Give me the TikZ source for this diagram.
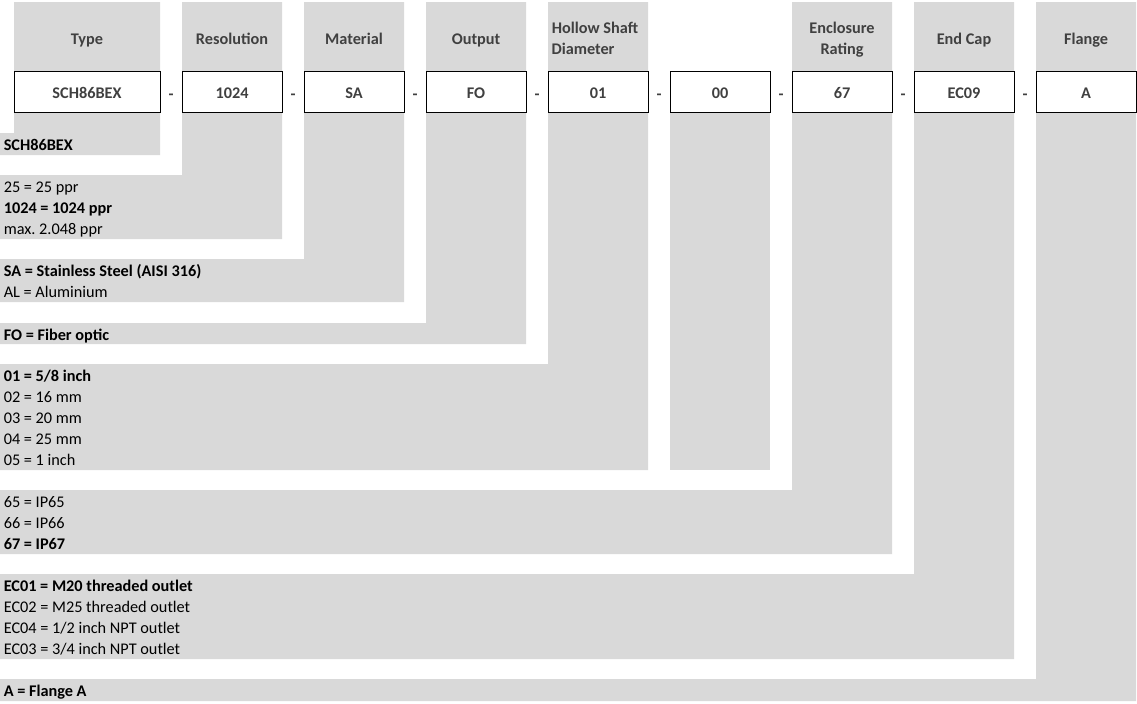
\documentclass[tikz,border=0pt]{standalone}
\usepackage{fontspec}
\setmainfont{Carlito}
\definecolor{cellgray}{HTML}{D9D9D9}
\definecolor{headink}{HTML}{404040}
\tikzset{
  colfill/.style={fill=cellgray, draw=none},
  headtext/.style={font=\fontsize{12.2pt}{14pt}\selectfont\bfseries, text=headink,
                   inner sep=0pt, anchor=base},
  codebox/.style={rectangle, draw=black, line width=0.75pt, fill=white,
                  text=headink, font=\fontsize{12.2pt}{14pt}\selectfont\bfseries,
                  minimum width=75pt, minimum height=30.75pt, inner sep=0pt,
                  text height=10.5pt, text depth=0pt},
  opttext/.style={font=\fontsize{12.2pt}{14pt}\selectfont, text=black,
                  inner sep=0pt, anchor=base west},
  optbold/.style={opttext, font=\fontsize{12.2pt}{14pt}\selectfont\bfseries}
}

\begin{document}
\begin{tikzpicture}[x=0.75pt, y=-0.75pt]
  \useasboundingbox (0,0) rectangle (1137,703);

  % grey columns, each running down into its option block
  \fill[colfill] (14,2) rectangle (160,155) (0,133) rectangle (160,155);
  \fill[colfill] (182,2) rectangle (282,239) (0,175) rectangle (282,239);
  \fill[colfill] (304,2) rectangle (404,302) (0,259) rectangle (404,302);
  \fill[colfill] (426,2) rectangle (526,344) (0,323) rectangle (526,344);
  \fill[colfill] (548,2) rectangle (648,470) (0,364) rectangle (648,470);
  \fill[colfill] (670,71) rectangle (770,470);
  \fill[colfill] (792,2) rectangle (892,554) (0,490) rectangle (892,554);
  \fill[colfill] (914,2) rectangle (1014,659) (0,574) rectangle (1014,659);
  \fill[colfill] (1036,2) rectangle (1136,701) (0,679) rectangle (1136,701);

  % headers
  \node[headtext] (htype) at (87,44) {Type};
  \node[headtext] (hres) at (232,44) {Resolution};
  \node[headtext] (hmat) at (354,44) {Material};
  \node[headtext] (hout) at (476,44) {Output};
  \node[headtext] (hshaft) at (595,33) {Hollow Shaft};
  \node[headtext] (hdia) at (583,54) {Diameter};
  \node[headtext] (hencl) at (842,33) {Enclosure};
  \node[headtext] (hrate) at (842,54) {Rating};
  \node[headtext] (hcap) at (964,44) {End Cap};
  \node[headtext] (hflange) at (1086,44) {Flange};

  % order code
  \node[codebox, minimum width=109.5pt] (type) at (87,91.5) {SCH86BEX};
  \node[codebox] (res) at (232,91.5) {1024};
  \node[codebox] (mat) at (354,91.5) {SA};
  \node[codebox] (out) at (476,91.5) {FO};
  \node[codebox] (shaft) at (598,91.5) {01};
  \node[codebox] (spare) at (720,91.5) {00};
  \node[codebox] (encl) at (842,91.5) {67};
  \node[codebox] (cap) at (964,91.5) {EC09};
  \node[codebox] (flange) at (1086,91.5) {A};

  \node[headtext] (d1) at (171,99) {-};
  \node[headtext] (d2) at (293,99) {-};
  \node[headtext] (d3) at (415,99) {-};
  \node[headtext] (d4) at (537,99) {-};
  \node[headtext] (d5) at (659,99) {-};
  \node[headtext] (d6) at (781,99) {-};
  \node[headtext] (d7) at (903,99) {-};
  \node[headtext] (d8) at (1025,99) {-};

  % options
  \node[optbold] (otype) at (3.5,150.5) {SCH86BEX};

  \node[opttext] (ores1) at (3.5,192.5) {25 = 25 ppr};
  \node[optbold] (ores2) at (3.5,213.5) {1024 = 1024 ppr};
  \node[opttext] (ores3) at (3.5,234.5) {max.\ 2.048 ppr};

  \node[optbold] (omat1) at (3.5,276.5) {SA = Stainless Steel (AISI 316)};
  \node[opttext] (omat2) at (3.5,297.5) {AL = Aluminium};

  \node[optbold] (oout) at (3.5,340.5) {FO = Fiber optic};

  \node[optbold] (oshaft1) at (3.5,381.5) {01 = 5/8 inch};
  \node[opttext] (oshaft2) at (3.5,402.5) {02 = 16 mm};
  \node[opttext] (oshaft3) at (3.5,423.5) {03 = 20 mm};
  \node[opttext] (oshaft4) at (3.5,444.5) {04 = 25 mm};
  \node[opttext] (oshaft5) at (3.5,465.5) {05 = 1 inch};

  \node[opttext] (oencl1) at (3.5,507.5) {65 = IP65};
  \node[opttext] (oencl2) at (3.5,528.5) {66 = IP66};
  \node[optbold] (oencl3) at (3.5,549.5) {67 = IP67};

  \node[optbold] (ocap1) at (3.5,591.5) {EC01 = M20 threaded outlet};
  \node[opttext] (ocap2) at (3.5,612.5) {EC02 = M25 threaded outlet};
  \node[opttext] (ocap3) at (3.5,633.5) {EC04 = 1/2 inch NPT outlet};
  \node[opttext] (ocap4) at (3.5,654.5) {EC03 = 3/4 inch NPT outlet};

  \node[optbold] (oflange) at (3.5,696.5) {A = Flange A};
\end{tikzpicture}
\end{document}
